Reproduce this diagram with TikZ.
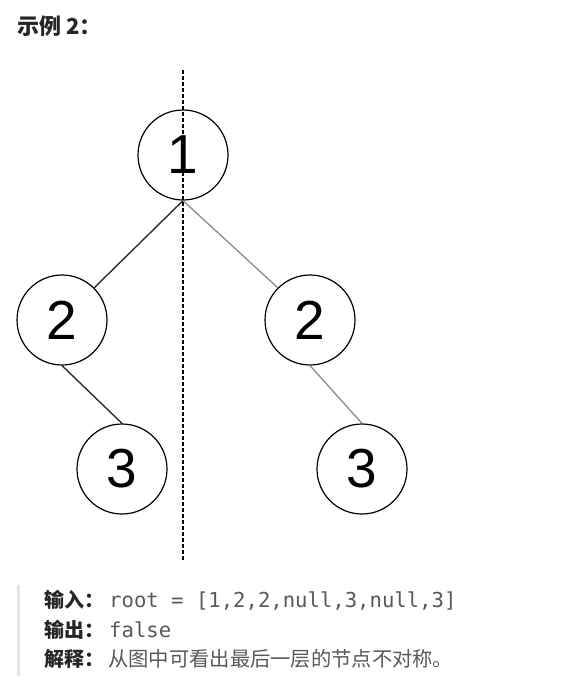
\documentclass[tikz,border=0pt]{standalone}
\usepackage{fontspec}
\setmainfont{Liberation Sans}
\newfontfamily\cjk{Noto Sans CJK SC}
\newfontfamily\monof{DejaVu Sans Mono}
\newfontfamily\digitf{Liberation Sans}
\definecolor{darkedge}{HTML}{2E2E2E}
\definecolor{lightedge}{HTML}{8C8C8C}
\definecolor{txtgray}{HTML}{595959}
\definecolor{labelblack}{HTML}{262626}
\definecolor{barcol}{HTML}{E3E3E3}
\begin{document}
\begin{tikzpicture}[x=1pt,y=-1pt,
  treenode/.style={circle,draw=black,line width=1.2pt,minimum size=90pt,inner sep=0pt,
    font=\digitf\fontsize{55}{55}\selectfont},
  edgedark/.style={draw=darkedge,line width=1.4pt},
  edgelight/.style={draw=lightedge,line width=1.3pt},
  axis/.style={draw=black,line width=1.2pt,dash pattern=on 3.5pt off 2.5pt},
  labeltxt/.style={anchor=base west,inner sep=0pt,text=labelblack,
    font=\cjk\bfseries\fontsize{20}{24}\selectfont},
  bodytxt/.style={anchor=base west,inner sep=0pt,text=txtgray,
    font=\cjk\fontsize{20.3}{24}\selectfont},
  codetxt/.style={anchor=base west,inner sep=0pt,text=txtgray,
    font=\monof\fontsize{20.6}{24}\selectfont}]
\useasboundingbox[fill=white] (0,0) rectangle (582,697);

% header
\node[anchor=base west,inner sep=0pt,text=labelblack,font=\cjk\bfseries\fontsize{22}{26}\selectfont]
  (title) at (17,34) {示例 2：};

% tree
\node[treenode] (n1)  at (183,155) {1};
\node[treenode] (n2l) at (62,320)  {2};
\node[treenode] (n2r) at (310,320) {2};
\node[treenode] (n3l) at (122,469) {3};
\node[treenode] (n3r) at (362,469) {3};

\draw[edgedark]  (n1.south) -- (n2l.45);
\draw[edgelight] (n1.south) -- (n2r.135);
\draw[edgedark]  (n2l.south) -- (n3l.north);
\draw[edgelight] (n2r.south) -- (n3r.north);

% symmetry axis
\coordinate (axtop) at (183,70);
\coordinate (axbot) at (183,560);
\draw[axis] (axtop) -- (axbot);

% explanation block
\coordinate (bartop) at (18.5,585);
\coordinate (barbot) at (18.5,676);
\draw[draw=barcol,line width=3pt] (bartop) -- (barbot);

\node[labeltxt] (in)  at (44,607) {输入：};
\node[codetxt]  (inv) at (109,607) {root = [1,2,2,null,3,null,3]};
\node[labeltxt] (out) at (44,637) {输出：};
\node[codetxt]  (outv) at (109,637) {false};
\node[labeltxt] (ex)  at (44,666) {解释：};
\node[bodytxt]  (exv) at (108,666) {从图中可看出最后一层的节点不对称。};
\end{tikzpicture}
\end{document}
